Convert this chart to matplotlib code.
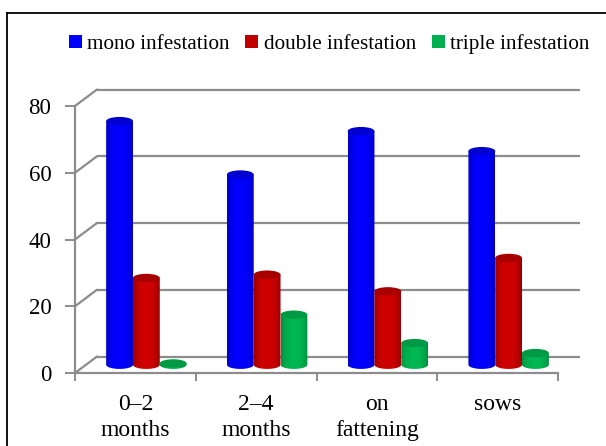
import numpy as np
import matplotlib
matplotlib.use("Agg")
import matplotlib.pyplot as plt
from matplotlib.transforms import ScaledTranslation
from matplotlib.patches import Ellipse, PathPatch, Patch, ConnectionPatch
from matplotlib.path import Path
from matplotlib.lines import Line2D
from matplotlib.colors import to_rgb

categories = ["0\u20132\nmonths", "2\u20134\nmonths", "on\nfattening", "sows"]
series_names = ["mono infestation", "double infestation", "triple infestation"]
mono = [73, 57, 70, 64]
double = [26, 27, 22, 32]
triple = [0.4, 15, 6.5, 3.5]
yticks = [0, 20, 40, 60, 80]

side_center = ["#0000ff", "#d00000", "#00b852"]
side_edge = ["#0000a8", "#7a0000", "#007a36"]
top_col = ["#0000d0", "#a80000", "#009a44"]
legend_cols = ["#0000ff", "#c00000", "#00b050"]
grid_col = "#8c8c8c"

plt.rcParams["font.family"] = ["Liberation Serif", "DejaVu Serif"]

W, H, DPI = 606, 446, 100
fig = plt.figure(figsize=(W / DPI, H / DPI), dpi=DPI)
ax = fig.add_axes([75 / W, (H - 373) / H, 483 / W, 267 / H])
ax.set_xlim(0, 4)
ax.set_ylim(0, 80)

# depth offsets (pixels)
DX, DY = 22, 16.5
back = ax.transData + ScaledTranslation(DX / DPI, DY / DPI, fig.dpi_scale_trans)
mid = ax.transData + ScaledTranslation(DX / 2 / DPI, DY / 2 / DPI, fig.dpi_scale_trans)

# back wall gridlines
ax.hlines(yticks, 0, 4, colors=grid_col, lw=1.6, transform=back, clip_on=False, zorder=1)
# side wall diagonals
for y in yticks:
    ax.add_artist(ConnectionPatch(
        xyA=(0, y), coordsA=ax.transData, xyB=(0, y), coordsB=back,
        color=grid_col, lw=1.6, zorder=1, clip_on=False))

for s in ["top", "right"]:
    ax.spines[s].set_visible(False)
for s in ["left", "bottom"]:
    ax.spines[s].set_color(grid_col)
    ax.spines[s].set_linewidth(1.6)
ax.patch.set_visible(False)

ax.set_yticks(yticks)
ax.tick_params(axis="y", direction="out", length=7, width=1.4, color=grid_col,
               labelsize=16.5, pad=10)
ax.set_xticks(np.arange(0, 5))
ax.set_xticklabels([])
ax.tick_params(axis="x", which="major", direction="out", length=6, width=1.4, color=grid_col)
ax.set_xticks(np.arange(4) + 0.5, minor=True)
ax.set_xticklabels(categories, minor=True, fontsize=17, linespacing=1.3)
ax.tick_params(axis="x", which="minor", length=0, pad=15)

# cylinders
bw = 0.222
eh = 2.5  # ellipse height in data units
npx = 64
t = np.linspace(0, 1, npx)
w = np.clip(np.sin(np.pi * (t * 0.95 + 0.03)), 0, 1) ** 0.45
data = [mono, double, triple]
for si, vals in enumerate(data):
    c0 = np.array(to_rgb(side_edge[si]))
    c1 = np.array(to_rgb(side_center[si]))
    grad = (c0[None, :] * (1 - w[:, None]) + c1[None, :] * w[:, None])[None, :, :]
    for ci, v in enumerate(vals):
        cx = ci + 0.5 + (si - 1) * bw
        x0, x1 = cx - bw / 2, cx + bw / 2
        th = np.linspace(0, np.pi, 40)
        arc_x = cx + bw / 2 * np.cos(th)
        arc_y = -eh / 2 * np.sin(th)
        verts = np.vstack([[x0, v], [x1, v], np.column_stack([arc_x, arc_y]), [x0, v]])
        path = Path(verts, closed=True)
        clip = PathPatch(path, transform=mid, facecolor="none", edgecolor="none")
        im = ax.imshow(grad, extent=(x0, x1, -eh / 2, v), transform=mid,
                       aspect="auto", interpolation="bilinear", zorder=3 + ci * 0.01)
        im.set_clip_path(clip)
        ax.add_patch(Ellipse((cx, v), bw, eh, transform=mid, facecolor=top_col[si],
                             edgecolor="none", zorder=3.005 + ci * 0.01, clip_on=False))

ax.set_xlim(0, 4)
ax.set_ylim(0, 80)

# legend
handles = [Patch(facecolor=c, edgecolor="none") for c in legend_cols]
fig.legend(handles, series_names, loc="center", bbox_to_anchor=(0.543, 1 - 44 / H),
           ncol=3, frameon=False, fontsize=15.2, handlelength=0.62, handleheight=0.62,
           handletextpad=0.25, columnspacing=0.75)

# outer border (partially visible)
fig.add_artist(Line2D([7 / W, 7 / W], [0, 1 - 13 / H], color="black", lw=1.3))
fig.add_artist(Line2D([7 / W, 1], [1 - 13 / H, 1 - 13 / H], color="black", lw=1.3))

fig.savefig("out.png", dpi=DPI)
